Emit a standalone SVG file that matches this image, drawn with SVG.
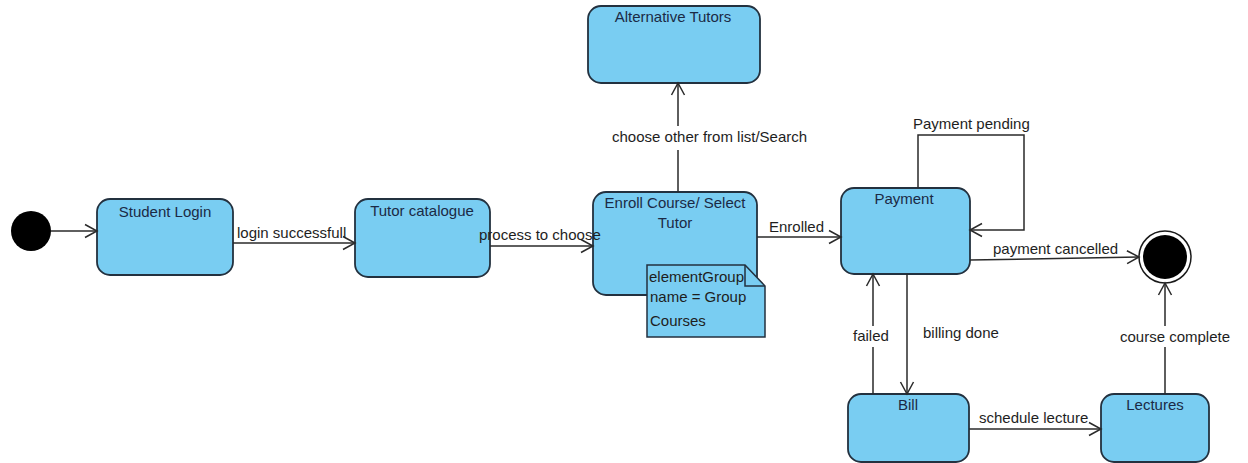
<svg xmlns="http://www.w3.org/2000/svg" width="1248" height="463" viewBox="0 0 1248 463">
<defs>
<marker id="arr" markerUnits="userSpaceOnUse" markerWidth="16" markerHeight="16" viewBox="0 0 16 16" refX="14" refY="8" orient="auto">
<path d="M2,1.5 L14,8 L2,14.5" fill="none" stroke="#2a2a2a" stroke-width="1.5"/>
</marker>
<style>
.st{fill:#79CDF2;stroke:#23313f;stroke-width:1.8}
.nt{font-family:"Liberation Sans",Arial,sans-serif;font-size:15px;fill:#1b2a45;text-anchor:middle}
.lb{font-family:"Liberation Sans",Arial,sans-serif;font-size:15px;fill:#1e1e1e}
.cn{fill:none;stroke:#2a2a2a;stroke-width:1.5}
</style>
</defs>
<rect width="1248" height="463" fill="#ffffff"/>

<g id="initial">
<circle cx="31" cy="231" r="20" fill="#000"/>
</g>

<g id="student-login">
<rect class="st" x="97" y="199" width="136" height="76" rx="13"/>
<text class="nt" x="165" y="217">Student Login</text>
</g>

<g id="tutor-catalogue">
<rect class="st" x="355" y="199" width="135" height="78" rx="13"/>
<text class="nt" x="422" y="216">Tutor catalogue</text>
</g>

<g id="enroll-course">
<rect class="st" x="593" y="192" width="164" height="103" rx="13"/>
<text class="nt" x="675" y="208">Enroll Course/ Select</text>
<text class="nt" x="675" y="228">Tutor</text>
</g>

<g id="note">
<path d="M647,265 L745,265 L765,286 L765,337 L647,337 Z" fill="#79CDF2" stroke="#23313f" stroke-width="1.5"/>
<path d="M745,265 L745,286 L765,286" fill="none" stroke="#23313f" stroke-width="1.5"/>
<text class="lb" x="649" y="282">elementGroup</text>
<text class="lb" x="650" y="302">name = Group</text>
<text class="lb" x="650" y="326">Courses</text>
</g>

<g id="alternative-tutors">
<rect class="st" x="588" y="6" width="172" height="77" rx="13"/>
<text class="nt" x="673" y="22">Alternative Tutors</text>
</g>

<g id="payment">
<rect class="st" x="841" y="188" width="129" height="86" rx="13"/>
<text class="nt" x="904" y="204">Payment</text>
</g>

<g id="bill">
<rect class="st" x="848" y="394" width="121" height="68" rx="13"/>
<text class="nt" x="908" y="410">Bill</text>
</g>

<g id="lectures">
<rect class="st" x="1101" y="394" width="108" height="68" rx="13"/>
<text class="nt" x="1155" y="410">Lectures</text>
</g>

<g id="final">
<circle cx="1165" cy="257" r="26" fill="#fff" stroke="#1a1a1a" stroke-width="1.5"/>
<circle cx="1165" cy="257" r="22" fill="#000"/>
</g>

<g id="connectors">
<path class="cn" d="M51,231 L97,231" marker-end="url(#arr)"/>
<path class="cn" d="M233,243 L355,243" marker-end="url(#arr)"/>
<path class="cn" d="M490,246 L593,246" marker-end="url(#arr)"/>
<path class="cn" d="M678,192 L678,150 M678,126 L678,83" marker-end="url(#arr)"/>
<path class="cn" d="M757,237 L841,237" marker-end="url(#arr)"/>
<path class="cn" d="M918,188 L918,135 L1024,135 L1024,230 L970,230" marker-end="url(#arr)"/>
<path class="cn" d="M970,260 L1139,257" marker-end="url(#arr)"/>
<path class="cn" d="M873,394 L873,347 M873,326 L873,274" marker-end="url(#arr)"/>
<path class="cn" d="M907,274 L907,394" marker-end="url(#arr)"/>
<path class="cn" d="M969,429 L1101,429" marker-end="url(#arr)"/>
<path class="cn" d="M1165,394 L1165,347 M1165,326 L1165,283" marker-end="url(#arr)"/>
<text class="lb" x="237" y="238">login successfull</text>
<text class="lb" x="479" y="240">process to choose</text>
<text class="lb" x="612" y="142">choose other from list/Search</text>
<text class="lb" x="769" y="232">Enrolled</text>
<text class="lb" x="913" y="129">Payment pending</text>
<text class="lb" x="993" y="254">payment cancelled</text>
<text class="lb" x="853" y="341">failed</text>
<text class="lb" x="923" y="338">billing done</text>
<text class="lb" x="979" y="423">schedule lecture</text>
<text class="lb" x="1120" y="342">course complete</text>
</g>
</svg>
